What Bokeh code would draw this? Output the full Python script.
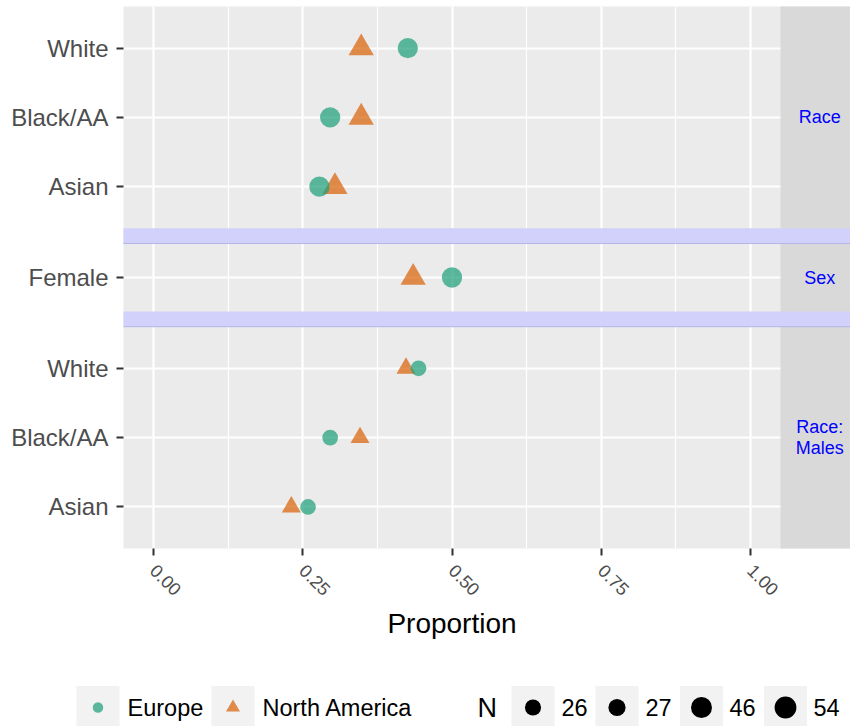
import math
from bokeh.plotting import figure
from bokeh.models import Range1d, FixedTicker, ColumnDataSource, NumeralTickFormatter
from bokeh.core.properties import value
from bokeh.embed import file_html
from bokeh.resources import INLINE

# ---------------- data ----------------
facets = ["Race", "Sex", "Race:\nMales"]
facet_categories = [["White", "Black/AA", "Asian"], ["Female"], ["White", "Black/AA", "Asian"]]
europe_prop = [[0.426, 0.296, 0.278], [0.500], [0.444, 0.296, 0.259]]
namerica_prop = [[0.348, 0.348, 0.304], [0.435], [0.423, 0.346, 0.231]]
europe_n = [54, 54, 27]
namerica_n = [46, 46, 26]
n_legend = [26, 27, 46, 54]
regions = ["Europe", "North America"]
x_ticks = [0.0, 0.25, 0.5, 0.75, 1.0]
x_minor = [0.125, 0.375, 0.625, 0.875]
x_title = "Proportion"

# ---------------- layout / style constants ----------------
FONT = "Liberation Sans"
EU_COLOR = "#1B9E77"
NA_COLOR = "#D95F02"
ALPHA = 0.7
PANEL_H = [3.2, 0.98, 3.2]
CAT_PAD = 0.6
GAP = 0.22
D_MIN, D_MAX = 14.6, 20.3
TRI_FACTOR = 1.3
BAND_FILL = "#D1D1FB"
BAND_LINE = "#B5B5E6"
STRIP_FILL = "#D9D9D9"

W = 850
LEFT_B, PANEL_W, STRIP_W = 123, 657, 70
MAIN_H, TOP_B, BOT_B = 608, 6, 60
LG_H = 726 - MAIN_H


def diam(n):
    lo, hi = min(n_legend), max(n_legend)
    return D_MIN + (D_MAX - D_MIN) * math.sqrt((n - lo) / (hi - lo))


# compute panel geometry
tick_pos, tick_lab, facet_center = [], [], []
band_top, band_bot = [], []
pts = {"Europe": dict(x=[], y=[], size=[]), "North America": dict(x=[], y=[], size=[])}
t = 0.0
for i, cats in enumerate(facet_categories):
    h = PANEL_H[i]
    if len(cats) > 1:
        ys = [round(t + CAT_PAD + k, 4) for k in range(len(cats))]
    else:
        ys = [round(t + h / 2, 4)]
    tick_pos += ys
    tick_lab += cats
    facet_center.append(t + h / 2)
    for k, yv in enumerate(ys):
        pts["Europe"]["x"].append(europe_prop[i][k])
        pts["Europe"]["y"].append(yv)
        pts["Europe"]["size"].append(diam(europe_n[i]))
        pts["North America"]["x"].append(namerica_prop[i][k])
        pts["North America"]["y"].append(yv)
        pts["North America"]["size"].append(diam(namerica_n[i]) * TRI_FACTOR)
    t += h
    if i < len(facet_categories) - 1:
        band_top.append(t)
        band_bot.append(t + GAP)
        t += GAP
y_total = t

X0, X1 = -0.05, 1.05
px_per_unit = PANEL_W / (X1 - X0)
X_END = X1 + STRIP_W / px_per_unit

p = figure(width=W, height=MAIN_H, x_range=Range1d(X0, X_END), y_range=Range1d(y_total, 0),
           output_backend="svg", toolbar_location=None,
           min_border_left=LEFT_B, min_border_right=0, min_border_top=TOP_B, min_border_bottom=BOT_B)
p.background_fill_color = "#EBEBEB"
p.border_fill_color = "white"
p.outline_line_color = None

# x axis
p.xaxis.ticker = FixedTicker(ticks=x_ticks, minor_ticks=x_minor)
p.xaxis.formatter = NumeralTickFormatter(format="0.00")
p.xaxis.major_label_orientation = -math.pi / 4
p.xaxis.major_label_text_font = FONT
p.xaxis.major_label_text_font_size = "18px"
p.xaxis.major_label_text_color = "#4D4D4D"
p.xaxis.major_label_standoff = 12

# y axis
p.yaxis.ticker = FixedTicker(ticks=tick_pos)
p.yaxis.major_label_overrides = dict(zip(tick_pos, tick_lab))
p.yaxis.major_label_text_font = FONT
p.yaxis.major_label_text_font_size = "24px"
p.yaxis.major_label_text_color = "#4D4D4D"
p.yaxis.major_label_standoff = 8

for ax in (p.xaxis, p.yaxis):
    ax.axis_line_color = None
    ax.major_tick_out = 7
    ax.major_tick_in = 0
    ax.major_tick_line_width = 2
    ax.major_tick_line_color = "#333333"
    ax.minor_tick_line_color = None

p.xgrid.grid_line_color = "white"
p.xgrid.grid_line_width = 2.2
p.xgrid.minor_grid_line_color = "white"
p.xgrid.minor_grid_line_width = 1.2
p.ygrid.grid_line_color = "white"
p.ygrid.grid_line_width = 2.2

# facet strips on the right
p.quad(left=X1, right=X_END + 1, top=-1, bottom=y_total + 1, fill_color=STRIP_FILL, line_color=None)

# panel spacing bands (extend past the frame; they are clipped to it)
p.quad(left=X0 - 1, right=X_END + 1, top=band_top, bottom=band_bot, fill_color=BAND_FILL, line_color=None)
p.segment(x0=X0 - 1, x1=X_END + 1, y0=band_bot, y1=band_bot, line_color=BAND_LINE, line_width=1)

# strip labels
p.text(x=X1 + 0.56 * (X_END - X1), y=facet_center, text=facets, text_align="center", text_baseline="middle",
       text_color="blue", text_font=value(FONT), text_font_size="18px", text_line_height=1.05)

# points
p.scatter(x="x", y="y", size="size", marker="triangle", fill_color=NA_COLOR, fill_alpha=ALPHA,
          line_color=None, source=ColumnDataSource(pts["North America"]))
p.scatter(x="x", y="y", size="size", marker="circle", fill_color=EU_COLOR, fill_alpha=ALPHA,
          line_color=None, source=ColumnDataSource(pts["Europe"]))

# bottom figure: x-axis title + legend (separate root, so its frame is not aligned with the plot's)
lg = figure(width=W, height=LG_H, x_range=Range1d(0, W), y_range=Range1d(LG_H, 0),
            output_backend="svg", toolbar_location=None, x_axis_location=None, y_axis_location=None,
            min_border=0, min_border_left=0, min_border_right=0, min_border_top=0, min_border_bottom=0)
lg.grid.visible = False
lg.outline_line_color = None
lg.background_fill_color = "white"
lg.border_fill_color = "white"

TITLE_Y = 623 - MAIN_H
lg.text(x=[LEFT_B + PANEL_W / 2], y=[TITLE_Y], text=[x_title], text_align="center", text_baseline="middle",
        text_color="black", text_font=value(FONT), text_font_size="28px")

LY = 707 - MAIN_H
KEY = 43
reg_keys = [97.5, 232.5]
reg_text_x = [127, 262]
n_keys = [532.5, 616.5, 701, 785]
n_text_x = [561, 645, 729, 813]
lg.rect(x=reg_keys + n_keys, y=LY, width=KEY, height=KEY, fill_color="#F2F2F2", line_color=None)
lg.scatter(x=[reg_keys[0]], y=[LY], size=10.5, marker="circle", fill_color=EU_COLOR, fill_alpha=ALPHA, line_color=None)
lg.scatter(x=[reg_keys[1]], y=[LY], size=14, marker="triangle", fill_color=NA_COLOR, fill_alpha=ALPHA, line_color=None)
lg.text(x=reg_text_x, y=LY, text=regions, text_align="left", text_baseline="middle",
        text_color="black", text_font=value(FONT), text_font_size="23.5px")
lg.text(x=[477], y=[LY], text=["N"], text_align="left", text_baseline="middle",
        text_color="black", text_font=value(FONT), text_font_size="27px")
lg.scatter(x=n_keys, y=LY, size=[diam(n) + 1.5 for n in n_legend], marker="circle",
           fill_color="black", line_color=None)
lg.text(x=n_text_x, y=LY, text=[str(n) for n in n_legend], text_align="left", text_baseline="middle",
        text_color="black", text_font=value(FONT), text_font_size="23.5px")

open("out.html", "w").write(file_html([p, lg], INLINE))
